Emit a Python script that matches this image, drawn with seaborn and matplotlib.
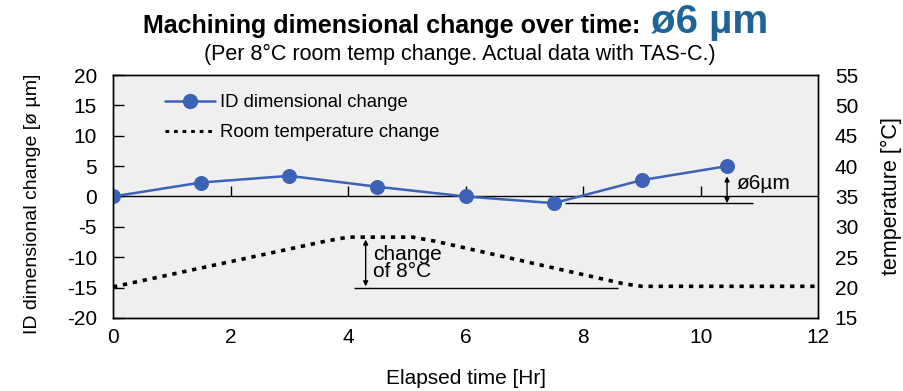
import numpy as np
import pandas as pd
import matplotlib
matplotlib.use("Agg")
import matplotlib.pyplot as plt
import seaborn as sns
from matplotlib.lines import Line2D

# data
hours = [0, 1.5, 3, 4.5, 6, 7.5, 9, 10.45]
id_change = [0, 2.3, 3.4, 1.6, 0, -1.1, 2.7, 5.0]

temp_hours = [0, 3.6, 4.0, 5.1, 5.5, 8.7, 9.0, 12]
room_temp = [20.1, 27.6, 28.3, 28.3, 27.6, 20.6, 20.2, 20.2]

x_ticks = [0, 2, 4, 6, 8, 10, 12]
left_ticks = [-20, -15, -10, -5, 0, 5, 10, 15, 20]
right_ticks = [15, 20, 25, 30, 35, 40, 45, 50, 55]

sns.set_theme(style="white")
plt.rcParams["font.family"] = ["Liberation Sans", "DejaVu Sans"]
plt.rcParams["axes.unicode_minus"] = False
for k in ("text.color", "axes.labelcolor", "xtick.color", "ytick.color"):
    plt.rcParams[k] = "black"

blue = "#3b62b4"
bg = "#efefef"

fig = plt.figure(figsize=(9.04, 3.91), dpi=100)
ax = fig.add_axes([0.125, 0.187, 0.78, 0.621])
ax.set_facecolor(bg)

dim_df = pd.DataFrame({"Hours": hours, "Change": id_change})
temp_df = pd.DataFrame({"Hours": temp_hours, "Temp": room_temp})

ax.axhline(0, color="black", lw=1.0, zorder=1)
# small ticks sitting on the zero line
ax.vlines(x_ticks[1:-1], 0, 1.8, color="black", lw=1.0, zorder=1)

sns.lineplot(data=dim_df, x="Hours", y="Change", ax=ax, color=blue, lw=1.8,
             marker="o", markersize=10, markeredgecolor=blue, zorder=3,
             legend=False)

ax2 = ax.twinx()
sns.lineplot(data=temp_df, x="Hours", y="Temp", ax=ax2, color="black", lw=2.6,
             linestyle=(0, (1.2, 1.6)), zorder=2, legend=False)
ax2.set_ylim(15, 55)
ax2.set_yticks(right_ticks)
ax2.tick_params(axis="y", length=0, labelsize=15, pad=12)
ax2.set_ylabel("temperature [°C]", fontsize=15.5, labelpad=16)

ax.set_xlim(0, 12)
ax.set_ylim(-20, 20)
ax.set_xticks(x_ticks)
ax.set_yticks(left_ticks)
ax.tick_params(axis="x", length=0, labelsize=15, pad=7)
ax.tick_params(axis="y", direction="in", length=8, width=1, labelsize=15, pad=11.5, left=True)
ax.set_xlabel("Elapsed time [Hr]", fontsize=15, labelpad=16)
ax.set_ylabel("ID dimensional change [ø µm]", fontsize=14)
ax.yaxis.set_label_coords(-0.102, 0.47)
for a in (ax, ax2):
    for s in a.spines.values():
        s.set_color("black")
        s.set_linewidth(1.0)

# annotation for dimensional change
ax.hlines(id_change[5], 7.7, 10.9, color="black", lw=1.0)
ax.annotate("", xy=(10.45, id_change[5]), xytext=(10.45, 3.3),
            arrowprops=dict(arrowstyle="<|-|>", color="black", lw=1.0,
                            mutation_scale=7, shrinkA=0, shrinkB=0))
ax.text(10.62, 2.2, "ø6µm", fontsize=15, va="center", ha="left")

# annotation for temperature change
ax2.hlines(20, 4.1, 8.6, color="black", lw=1.0)
ax2.annotate("", xy=(4.3, 20.2), xytext=(4.3, 27.9),
             arrowprops=dict(arrowstyle="<|-|>", color="black", lw=1.0,
                             mutation_scale=7, shrinkA=0, shrinkB=0))
ax2.text(4.42, 24.0, "change\nof 8°C", fontsize=15, va="center", ha="left",
         linespacing=0.88)

# legend
handles = [
    Line2D([], [], color=blue, lw=1.8, marker="o", markersize=10),
    Line2D([], [], color="black", lw=2.2, linestyle=(0, (1.2, 1.6))),
]
ax.legend(handles, ["ID dimensional change", "Room temperature change"],
          loc="upper left", bbox_to_anchor=(0.05, 0.99), frameon=False,
          fontsize=13.3, handlelength=2.7, labelspacing=0.72, handletextpad=0.3)

# title
fig.text(0.716, 0.915, "Machining dimensional change over time: ",
         fontsize=18, fontweight="bold", ha="right", va="baseline")
fig.text(0.72, 0.915, "ø6 µm", fontsize=29, fontweight="bold",
         color="#1f6496", ha="left", va="baseline")
fig.text(0.509, 0.847, "(Per 8°C room temp change. Actual data with TAS-C.)",
         fontsize=15.5, ha="center", va="baseline")

fig.savefig("out.png", dpi=100)
